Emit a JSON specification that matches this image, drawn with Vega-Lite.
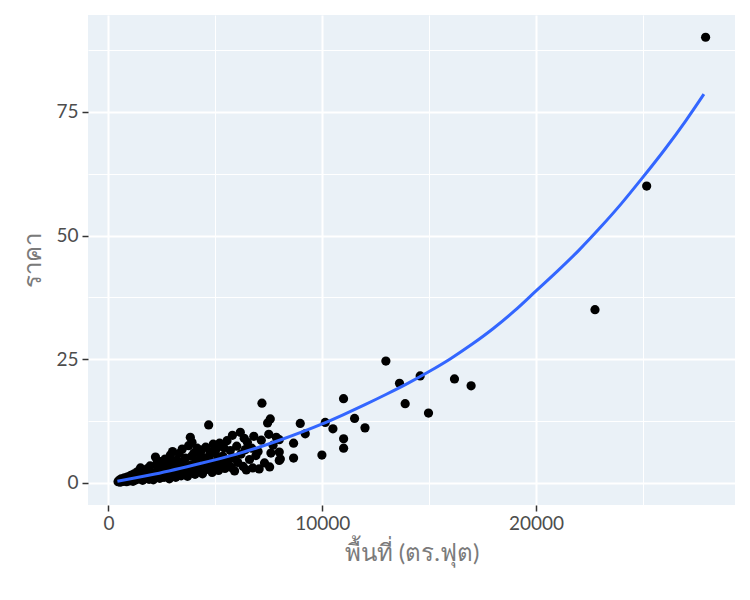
{
  "$schema": "https://vega.github.io/schema/vega-lite/v6.json",
  "autosize": "none",
  "width": 647,
  "height": 490,
  "padding": {"left": 88, "top": 15, "right": 15, "bottom": 95},
  "background": "white",
  "config": {
    "view": {"fill": "#eaf1f7", "stroke": null},
    "font": "Lato",
    "axis": {
      "domain": false,
      "gridColor": "white",
      "tickColor": "#333333",
      "tickSize": 6,
      "tickWidth": 1.5,
      "labelFont": "Lato",
      "labelFontSize": 19,
      "labelColor": "#4d4d4d",
      "titleFont": "Lato",
      "titleFontSize": 24,
      "titleFontWeight": "normal",
      "titleColor": "#7a7a7a"
    }
  },
  "datasets": {
    "homes": [
      {"area": 450, "price": 0.2}, {"area": 500, "price": 0.5}, {"area": 550, "price": 0.1}, {"area": 600, "price": 0.8},
      {"area": 650, "price": 0.4}, {"area": 700, "price": 0.3}, {"area": 750, "price": 1.0}, {"area": 800, "price": 0.6},
      {"area": 850, "price": 0.2}, {"area": 900, "price": 1.2}, {"area": 950, "price": 0.7}, {"area": 1000, "price": 0.4},
      {"area": 1050, "price": 1.5}, {"area": 1100, "price": 0.9}, {"area": 1150, "price": 0.3}, {"area": 1200, "price": 1.8},
      {"area": 1250, "price": 1.1}, {"area": 1300, "price": 0.6}, {"area": 1350, "price": 2.2}, {"area": 1400, "price": 1.4},
      {"area": 1450, "price": 0.8}, {"area": 1500, "price": 3.0}, {"area": 1550, "price": 1.7}, {"area": 1600, "price": 0.5},
      {"area": 1650, "price": 2.4}, {"area": 1700, "price": 1.2}, {"area": 1750, "price": 0.9}, {"area": 1800, "price": 2.8},
      {"area": 1850, "price": 1.9}, {"area": 1900, "price": 0.7}, {"area": 1950, "price": 3.4}, {"area": 2000, "price": 2.1},
      {"area": 2050, "price": 1.3}, {"area": 2100, "price": 0.6}, {"area": 2200, "price": 5.2}, {"area": 2250, "price": 3.8},
      {"area": 2300, "price": 2.5}, {"area": 2350, "price": 1.6}, {"area": 2400, "price": 0.9}, {"area": 2450, "price": 4.3},
      {"area": 2500, "price": 3.1}, {"area": 2550, "price": 2.0}, {"area": 2600, "price": 1.1}, {"area": 2650, "price": 4.8},
      {"area": 2700, "price": 3.5}, {"area": 2750, "price": 2.4}, {"area": 2800, "price": 1.5}, {"area": 2850, "price": 0.8},
      {"area": 2900, "price": 5.6}, {"area": 2950, "price": 4.0}, {"area": 3000, "price": 6.3}, {"area": 3050, "price": 2.9},
      {"area": 3100, "price": 1.8}, {"area": 3150, "price": 1.1}, {"area": 3200, "price": 4.6}, {"area": 3250, "price": 3.3},
      {"area": 3300, "price": 5.9}, {"area": 3350, "price": 2.2}, {"area": 3400, "price": 1.4}, {"area": 3450, "price": 6.8},
      {"area": 3500, "price": 4.2}, {"area": 3550, "price": 3.0}, {"area": 3600, "price": 5.0}, {"area": 3650, "price": 2.0},
      {"area": 3700, "price": 1.3}, {"area": 3750, "price": 7.5}, {"area": 3830, "price": 9.2}, {"area": 3910, "price": 8.2},
      {"area": 3850, "price": 3.6}, {"area": 3900, "price": 5.4}, {"area": 3950, "price": 2.6}, {"area": 4000, "price": 6.0},
      {"area": 4050, "price": 1.7}, {"area": 4100, "price": 4.4}, {"area": 4150, "price": 7.0}, {"area": 4200, "price": 3.2},
      {"area": 4250, "price": 2.3}, {"area": 4300, "price": 5.7}, {"area": 4350, "price": 6.6}, {"area": 4400, "price": 1.8},
      {"area": 4450, "price": 4.9}, {"area": 4500, "price": 3.7}, {"area": 4550, "price": 7.2}, {"area": 4600, "price": 2.7},
      {"area": 4688, "price": 11.7}, {"area": 4700, "price": 5.3}, {"area": 4750, "price": 6.2}, {"area": 4800, "price": 4.0},
      {"area": 4850, "price": 2.1}, {"area": 4900, "price": 7.8}, {"area": 4950, "price": 3.3}, {"area": 5000, "price": 5.9},
      {"area": 5050, "price": 6.9}, {"area": 5100, "price": 4.6}, {"area": 5150, "price": 2.5}, {"area": 5200, "price": 8.0},
      {"area": 5300, "price": 3.8}, {"area": 5350, "price": 5.4}, {"area": 5400, "price": 7.1}, {"area": 5450, "price": 2.9},
      {"area": 5546, "price": 8.5}, {"area": 5600, "price": 4.3}, {"area": 5700, "price": 6.5}, {"area": 5750, "price": 3.1},
      {"area": 5800, "price": 9.6}, {"area": 5850, "price": 5.0}, {"area": 5900, "price": 2.4}, {"area": 6000, "price": 7.4},
      {"area": 6050, "price": 4.1}, {"area": 6168, "price": 10.2}, {"area": 6200, "price": 5.8}, {"area": 6300, "price": 3.3},
      {"area": 6350, "price": 9.0}, {"area": 6400, "price": 6.7}, {"area": 6450, "price": 2.6}, {"area": 6500, "price": 8.2},
      {"area": 6600, "price": 4.7}, {"area": 6700, "price": 7.0}, {"area": 6750, "price": 3.0}, {"area": 6800, "price": 9.4},
      {"area": 6900, "price": 5.5}, {"area": 7000, "price": 6.3}, {"area": 7050, "price": 2.8}, {"area": 7181, "price": 16.1},
      {"area": 7150, "price": 8.6}, {"area": 7300, "price": 4.0}, {"area": 7445, "price": 12.1}, {"area": 7570, "price": 12.9},
      {"area": 7500, "price": 9.8}, {"area": 7540, "price": 3.2}, {"area": 7600, "price": 6.0}, {"area": 7700, "price": 7.6},
      {"area": 7850, "price": 9.2}, {"area": 7990, "price": 8.7}, {"area": 7990, "price": 6.2}, {"area": 7990, "price": 4.5},
      {"area": 8040, "price": 4.8}, {"area": 8660, "price": 8.0}, {"area": 8660, "price": 5.0}, {"area": 8972, "price": 12.0},
      {"area": 9206, "price": 9.9}, {"area": 9985, "price": 5.6}, {"area": 10141, "price": 12.2}, {"area": 10500, "price": 10.9},
      {"area": 10997, "price": 17.0}, {"area": 11000, "price": 8.9}, {"area": 11000, "price": 7.0}, {"area": 11512, "price": 13.0},
      {"area": 12000, "price": 11.1}, {"area": 12977, "price": 24.6}, {"area": 13614, "price": 20.1}, {"area": 13879, "price": 16.0},
      {"area": 14580, "price": 21.6}, {"area": 14970, "price": 14.1}, {"area": 16185, "price": 21.0}, {"area": 16963, "price": 19.6},
      {"area": 22757, "price": 35.0}, {"area": 25174, "price": 60.0}, {"area": 27930, "price": 90.1}
    ],
    "smooth": [
      {"area": 420, "price": 0.3}, {"area": 2000, "price": 1.6}, {"area": 4000, "price": 3.6},
      {"area": 6000, "price": 5.8}, {"area": 8000, "price": 8.6}, {"area": 10000, "price": 11.9},
      {"area": 11000, "price": 13.8}, {"area": 12000, "price": 15.8}, {"area": 13000, "price": 17.9},
      {"area": 14000, "price": 20.1}, {"area": 15000, "price": 22.5}, {"area": 16000, "price": 25.1},
      {"area": 17000, "price": 28.0}, {"area": 18000, "price": 31.2}, {"area": 19000, "price": 34.8},
      {"area": 20000, "price": 38.8}, {"area": 21000, "price": 42.8}, {"area": 22000, "price": 47.0},
      {"area": 23000, "price": 51.6}, {"area": 24000, "price": 56.5}, {"area": 25000, "price": 61.8},
      {"area": 26000, "price": 67.3}, {"area": 27000, "price": 73.2}, {"area": 27850, "price": 78.6}
    ]
  },
  "encoding": {
    "x": {
      "field": "area",
      "type": "quantitative",
      "title": "พื้นที่ (ตร.ฟุต)",
      "scale": {"domain": [-955, 29305], "nice": false, "zero": false},
      "axis": {
        "values": [0, 5000, 10000, 15000, 20000, 25000],
        "labelExpr": "datum.value % 10000 === 0 ? datum.value : ''",
        "tickOpacity": {"condition": {"test": "datum.value % 10000 === 0", "value": 1}, "value": 0},
        "gridWidth": {"condition": {"test": "datum.value % 10000 === 0", "value": 2}, "value": 1},
        "labelPadding": 3,
        "titlePadding": 8
      }
    },
    "y": {
      "field": "price",
      "type": "quantitative",
      "title": "ราคา",
      "scale": {"domain": [-4.5, 94.6], "nice": false, "zero": false},
      "axis": {
        "values": [0, 12.5, 25, 37.5, 50, 62.5, 75, 87.5],
        "labelExpr": "datum.value % 25 === 0 ? datum.value : ''",
        "tickOpacity": {"condition": {"test": "datum.value % 25 === 0", "value": 1}, "value": 0},
        "gridWidth": {"condition": {"test": "datum.value % 25 === 0", "value": 2}, "value": 1},
        "labelPadding": 4,
        "titlePadding": 10
      }
    }
  },
  "layer": [
    {
      "data": {"name": "homes"},
      "mark": {"type": "circle", "color": "black", "opacity": 1, "size": 85}
    },
    {
      "data": {"name": "smooth"},
      "mark": {"type": "line", "color": "#3366ff", "strokeWidth": 3, "interpolate": "monotone"}
    }
  ]
}
